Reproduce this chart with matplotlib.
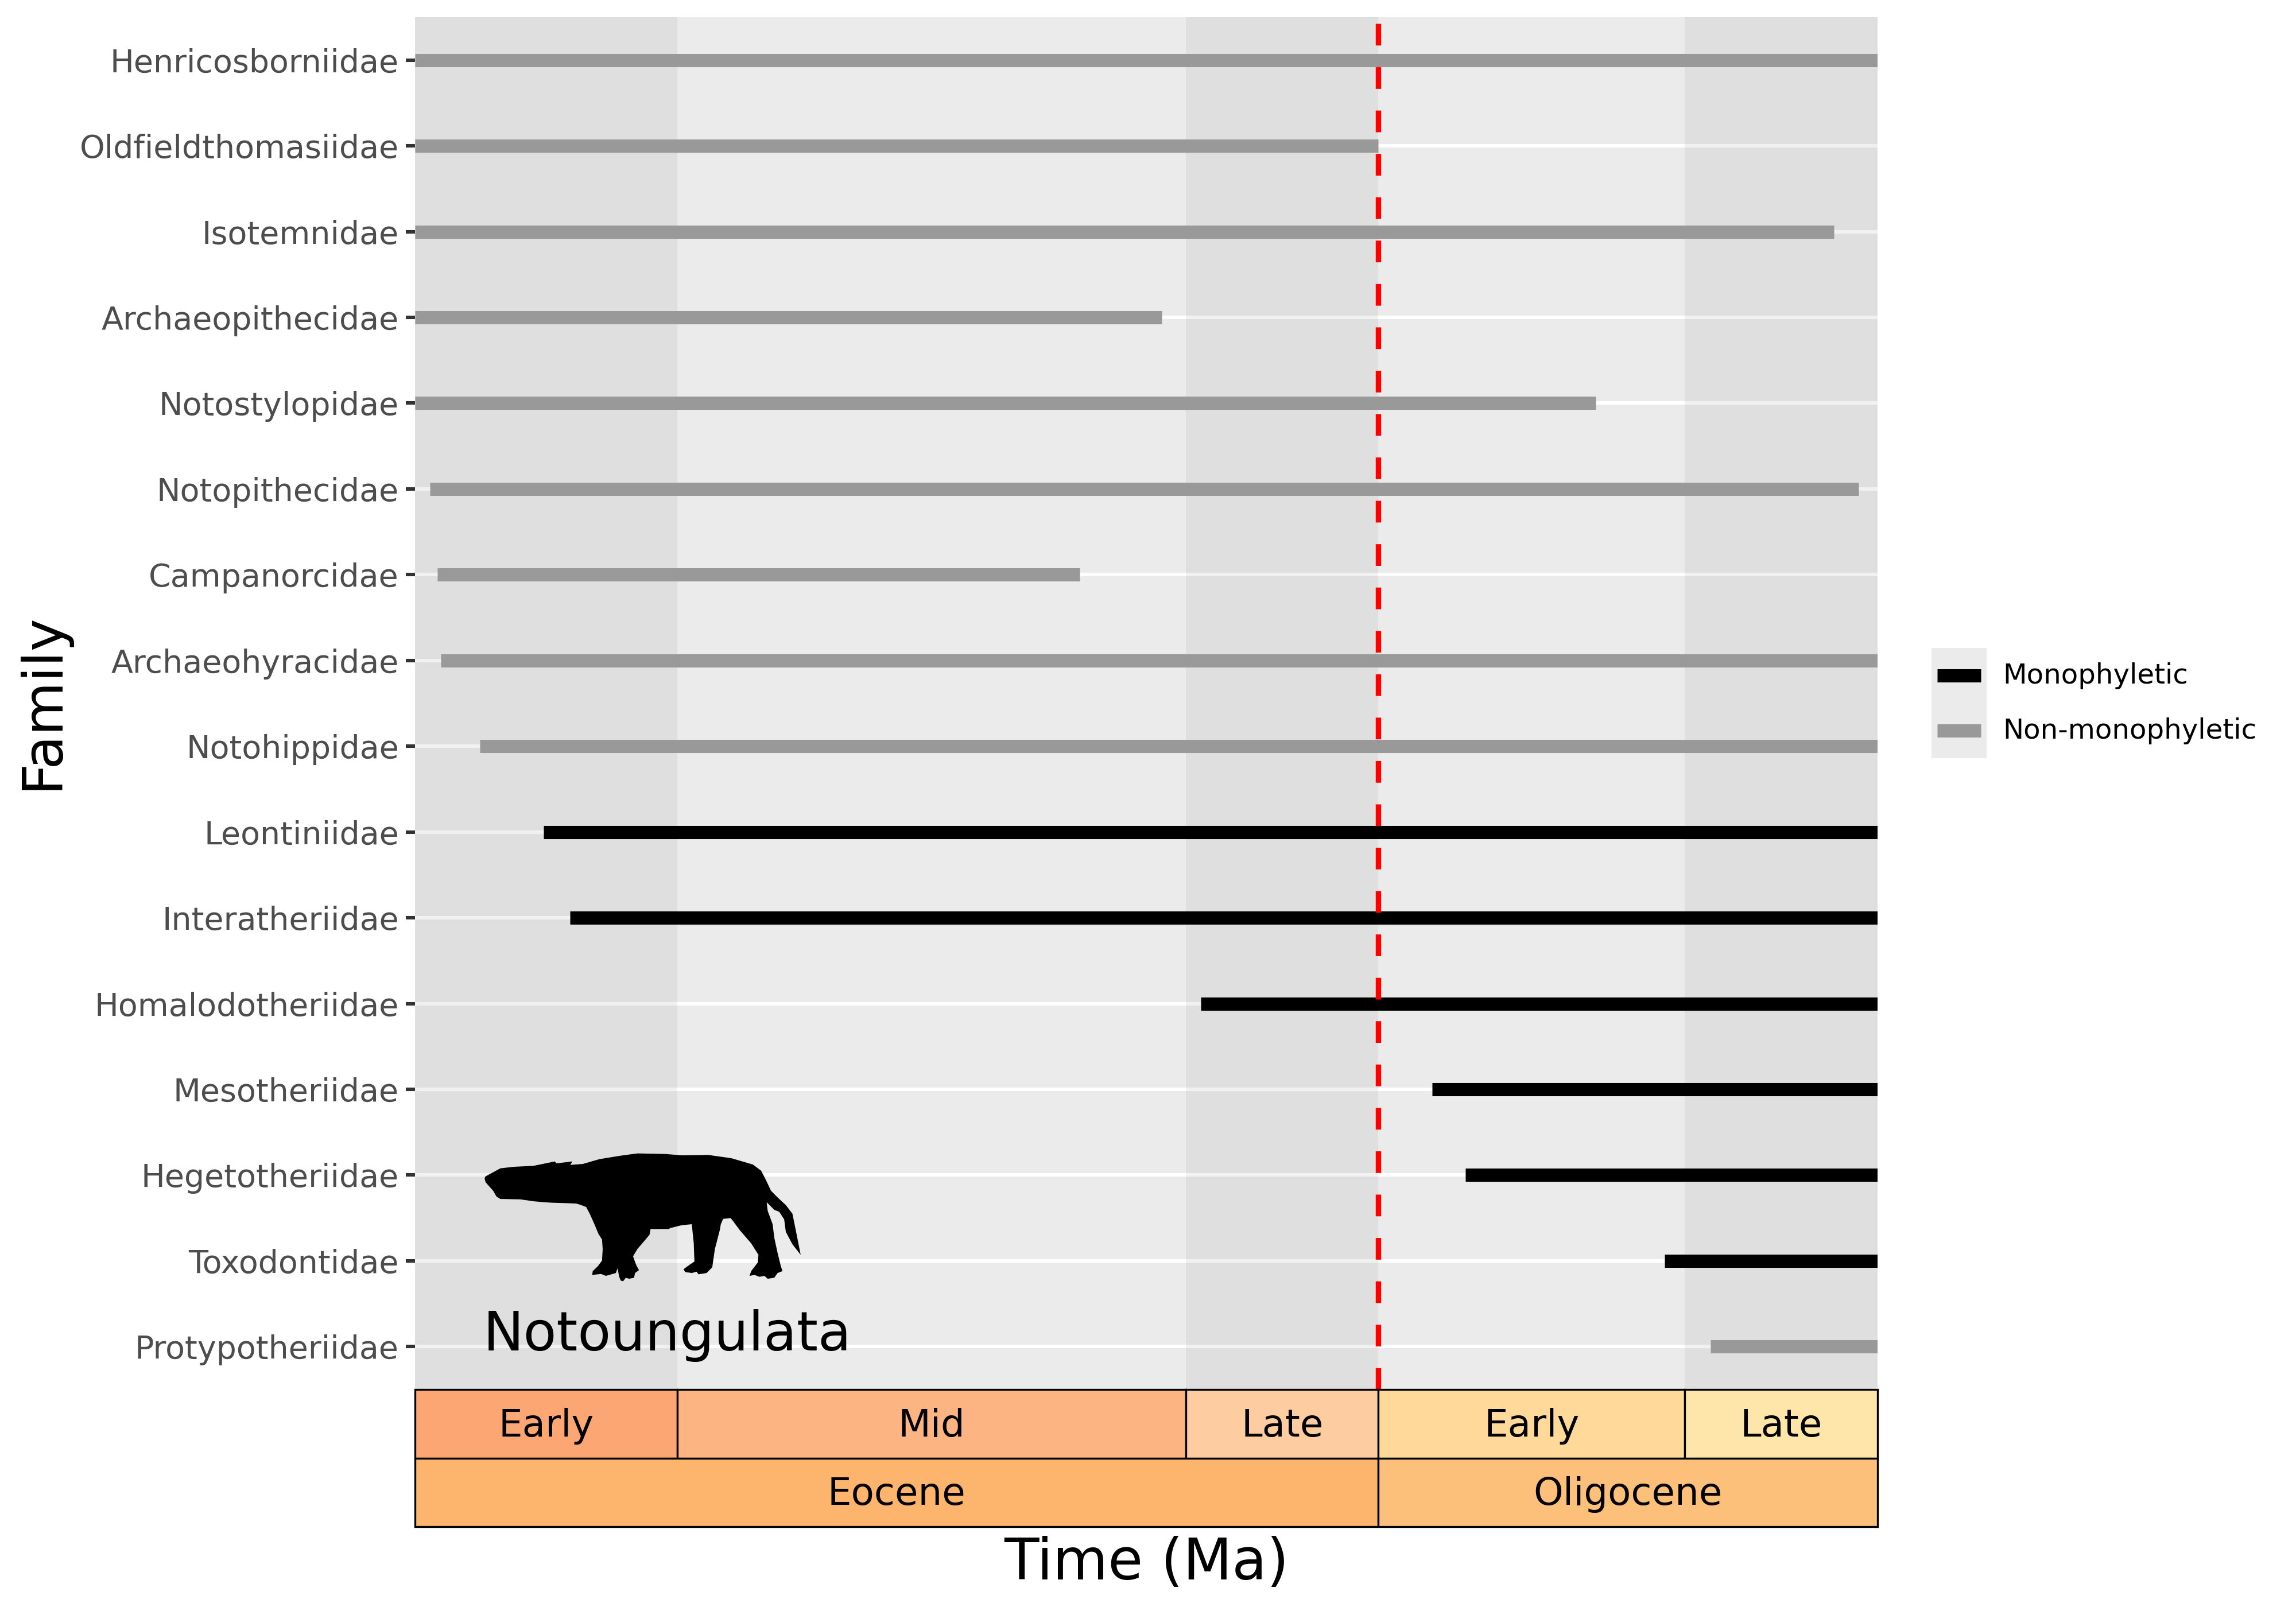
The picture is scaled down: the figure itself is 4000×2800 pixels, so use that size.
import matplotlib.pyplot as plt
from matplotlib.patches import Rectangle, Polygon

plt.rcParams['font.family'] = ['DejaVu Sans']

# familias (de cima para baixo) e amplitude temporal em Ma
familias = ["Henricosborniidae", "Oldfieldthomasiidae", "Isotemnidae", "Archaeopithecidae",
            "Notostylopidae", "Notopithecidae", "Campanorcidae", "Archaeohyracidae",
            "Notohippidae", "Leontiniidae", "Interatheriidae", "Homalodotheriidae",
            "Mesotheriidae", "Hegetotheriidae", "Toxodontidae", "Protypotheriidae"]
inicio = [53.0, 53.0, 53.0, 53.0, 53.0, 52.7, 52.56, 52.49,
          51.71, 50.45, 49.93, 37.42, 32.83, 32.17, 28.22, 27.31]
fim = [24.0, 33.9, 24.87, 38.19, 29.59, 24.37, 39.82, 24.0,
       24.0, 24.0, 24.0, 24.0, 24.0, 24.0, 24.0, 24.0]
grupo = ["Non-monophyletic"] * 9 + ["Monophyletic"] * 6 + ["Non-monophyletic"]
cores_grupo = {"Monophyletic": "black", "Non-monophyletic": "#999999"}

# escala de tempo
idades_nome = ["Early", "Mid", "Late", "Early", "Late"]
idades_base = [56.0, 47.8, 37.71, 33.9, 27.82]
idades_topo = [47.8, 37.71, 33.9, 27.82, 23.03]
idades_cor = ["#FCA773", "#FCB482", "#FDCDA1", "#FED99A", "#FEE6AA"]
epocas_nome = ["Eocene", "Oligocene"]
epocas_base = [56.0, 33.9]
epocas_topo = [33.9, 23.03]
epocas_cor = ["#FDB46C", "#FDC07A"]

limite_eo = 33.9
xlim = (53, 24)

fig = plt.figure(figsize=(20, 14), dpi=200)
ax = fig.add_axes([0.18075, 0.13536, 0.637, 0.85393])
ax.set_facecolor("#EBEBEB")
ax.set_xlim(*xlim)
ax.set_ylim(len(familias) - 0.5, -0.5)

ys = list(range(len(familias)))
for y in ys:
    ax.axhline(y, color="white", lw=2.2, zorder=1)

# faixas alternadas das idades
for i, (b, t) in enumerate(zip(idades_base, idades_topo)):
    if i % 2 == 0:
        ax.axvspan(b, t, color="#7F7F7F", alpha=0.1, lw=0, zorder=2)

for y, a, b, g in zip(ys, inicio, fim, grupo):
    ax.hlines(y, a, b, color=cores_grupo[g], lw=8.3, capstyle="butt", zorder=3)

ax.axvline(limite_eo, color="red", lw=3.4, dashes=(4, 4), zorder=4)

ax.set_yticks(ys)
ax.set_yticklabels(familias, fontsize=20, color="#4D4D4D")
ax.tick_params(axis="y", length=5.6, width=2.2, color="#333333", pad=4.5)
ax.set_xticks([])
for s in ax.spines.values():
    s.set_visible(False)

# silhueta e nome do grupo
sil = ax.inset_axes([0.0471, 0.0786, 0.2166, 0.0937])
sil.set_xlim(250, 1210)
sil.set_ylim(850, 178)
sil.axis("off")
contorno = [(255, 300), (300, 258), (340, 250), (400, 245), (465, 222), (470, 232), (518, 222),
            (512, 240), (550, 235), (600, 210), (660, 193), (715, 180), (800, 183), (850, 190),
            (930, 188), (1000, 205), (1065, 238), (1090, 270), (1105, 320), (1120, 375),
            (1140, 410), (1165, 450), (1185, 495), (1195, 580), (1210, 710), (1185, 655),
            (1165, 590), (1160, 525), (1145, 485), (1130, 475), (1107, 435), (1110, 480),
            (1125, 550), (1130, 620), (1140, 700), (1150, 770), (1155, 795), (1140, 805),
            (1130, 830), (1110, 835), (1100, 820), (1085, 825), (1070, 815), (1055, 820),
            (1060, 795), (1080, 750), (1082, 710), (1060, 650), (1025, 580), (1010, 545),
            (998, 518), (975, 522), (968, 550), (965, 580), (950, 680), (942, 775), (925, 805),
            (900, 812), (895, 798), (880, 805), (860, 800), (855, 785), (875, 760), (888, 745),
            (886, 650), (880, 550), (850, 555), (815, 570), (810, 575), (755, 575), (752, 605),
            (735, 640), (715, 680), (702, 718), (712, 765), (720, 790), (708, 805), (705, 830),
            (690, 835), (680, 830), (672, 848), (665, 845), (660, 825), (655, 780), (650, 805),
            (620, 820), (605, 810), (578, 815), (580, 795), (595, 770), (608, 740), (610, 680),
            (608, 630), (597, 600), (585, 550), (572, 500), (560, 460), (545, 450), (530, 442),
            (500, 440), (460, 438), (432, 435), (400, 430), (360, 420), (300, 418), (288, 405),
            (278, 375), (265, 350), (255, 330), (252, 310)]
sil.add_patch(Polygon(contorno, closed=True, color="black", lw=0))
ax.text(0.1727, 0.0285, "Notoungulata", transform=ax.transAxes, ha="center",
        va="baseline", fontsize=34, color="black")


def barra_tempo(rect, nomes, bases, topos, cores):
    bx = fig.add_axes(rect, sharex=ax)
    bx.set_ylim(0, 1)
    bx.axis("off")
    lo, hi = max(xlim), min(xlim)
    for n, b, t, c in zip(nomes, bases, topos, cores):
        b2, t2 = min(b, lo), max(t, hi)
        bx.add_patch(Rectangle((b2, 0), t2 - b2, 1, facecolor=c, edgecolor="black",
                               lw=1.2, clip_on=False))
        bx.text((b2 + t2) / 2, 0.47, n, ha="center", va="center", fontsize=23.7)
    return bx


barra_tempo([0.18075, 0.0925, 0.637, 0.04286], idades_nome, idades_base, idades_topo, idades_cor)
barra_tempo([0.18075, 0.05, 0.637, 0.0425], epocas_nome, epocas_base, epocas_topo, epocas_cor)
ax.set_xlim(*xlim)

fig.text(0.4993, 0.027, "Time (Ma)", ha="center", va="center", fontsize=35.6)
fig.text(0.0185, 0.5636, "Family", ha="center", va="center", rotation=90, fontsize=34.5)

# legenda manual
lg = fig.add_axes([0.84125, 0.52821, 0.15625, 0.06857])
lg.set_xlim(0, 625)
lg.set_ylim(0, 2)
lg.axis("off")
lg.add_patch(Rectangle((0, 0), 96, 2, facecolor="#EBEBEB", lw=0))
for k, nome in enumerate(["Monophyletic", "Non-monophyletic"]):
    yk = 1.5 - k
    lg.plot([10, 86], [yk, yk], color=cores_grupo[nome], lw=8.3, solid_capstyle="butt")
    lg.text(124, yk, nome, va="center", ha="left", fontsize=17.4)

fig.savefig("out.png", dpi=200)
